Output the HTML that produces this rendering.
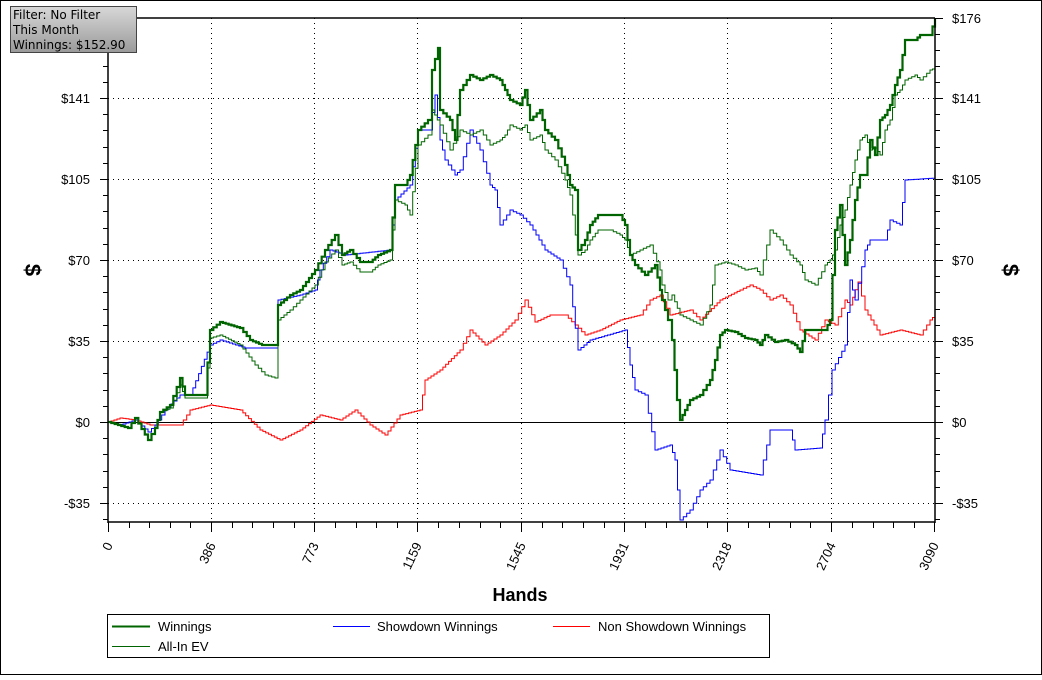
<!DOCTYPE html>
<html><head><style>
body{margin:0;background:#fff;}
svg text{font-family:"Liberation Sans",sans-serif;}
</style></head><body>
<svg width="1042" height="675" xmlns="http://www.w3.org/2000/svg">
<defs><linearGradient id="g" x1="0" y1="0" x2="0" y2="1"><stop offset="0" stop-color="#d8d8d8"/><stop offset="1" stop-color="#9a9a9a"/></linearGradient></defs>
<rect x="0.5" y="0.5" width="1041" height="674" fill="#fff" stroke="#000"/>
<g stroke="#000" stroke-dasharray="1,4" stroke-width="1">
<line x1="108" y1="98.5" x2="935" y2="98.5"/><line x1="108" y1="179.5" x2="935" y2="179.5"/><line x1="108" y1="260.5" x2="935" y2="260.5"/><line x1="108" y1="341.5" x2="935" y2="341.5"/><line x1="108" y1="503.5" x2="935" y2="503.5"/>
<line x1="211.5" y1="18" x2="211.5" y2="522"/><line x1="314.5" y1="18" x2="314.5" y2="522"/><line x1="417.5" y1="18" x2="417.5" y2="522"/><line x1="521.5" y1="18" x2="521.5" y2="522"/><line x1="624.5" y1="18" x2="624.5" y2="522"/><line x1="727.5" y1="18" x2="727.5" y2="522"/><line x1="831.5" y1="18" x2="831.5" y2="522"/>
</g>
<line x1="108" y1="422.5" x2="935" y2="422.5" stroke="#000"/>
<g fill="none" stroke-linejoin="miter" class="ser">
<polyline stroke="#ff0000" points="108,422 120,418 135,420 150,425 165,425 180,425 190,410 210,405 240,410 260,430 280,440 300,430 320,415 340,420 355,410 370,425 385,435 400,415 420,410 425,380 440,370 460,350 470,330 485,345 500,335 515,320 525,300 535,322 550,315 565,315 575,325 585,335 600,330 620,320 640,315 650,300 660,295 670,315 690,310 700,320 720,300 740,290 750,285 760,290 770,300 780,295 790,305 800,330 815,340 825,320 835,325 845,300 850,305 858,282 865,310 880,335 900,330 920,335 930,320 935,315"/>
<polyline stroke="#0000ff" points="108,422 120,425 135,420 148,432 155,425 165,410 180,395 190,395 210,345 220,340 245,348 275,348 278,300 300,295 315,290 320,270 330,250 345,255 390,250 395,200 410,185 418,130 430,130 435,95 440,140 445,160 455,175 460,170 470,130 480,150 490,185 495,190 500,225 510,210 520,215 530,225 545,250 560,260 570,285 578,350 590,340 625,330 630,365 635,390 645,395 655,450 670,445 675,460 680,520 690,510 700,490 710,480 720,450 730,470 760,475 770,430 790,430 795,450 820,448 825,420 832,370 845,345 850,280 855,300 865,250 870,240 885,240 890,220 900,225 905,180 935,178"/>
<polyline stroke="#006400" stroke-width="1" points="108,422 118,425 128,428 135,418 148,440 155,428 160,412 170,408 180,385 185,398 205,398 210,338 220,335 240,345 255,365 265,375 275,378 278,320 290,310 300,300 315,285 325,262 335,250 342,265 350,262 360,272 370,272 378,265 390,260 395,200 405,205 410,215 418,145 428,135 432,110 440,125 450,150 460,130 470,135 480,130 490,145 500,140 505,135 510,125 520,130 525,125 530,140 540,135 545,150 555,160 565,180 570,195 578,255 585,250 590,240 598,230 610,230 620,235 625,240 630,255 640,250 650,245 660,270 662,285 668,300 672,295 680,315 690,320 700,325 710,305 715,265 725,262 735,265 745,270 755,268 760,275 770,230 780,240 790,255 800,265 805,280 815,285 825,265 830,260 835,250 840,225 845,210 850,185 855,160 860,140 865,135 870,150 875,148 880,155 885,130 890,120 895,95 900,90 905,80 915,75 920,80 930,70 935,68"/>
<polyline stroke="#006400" stroke-width="2.2" points="108,422 118,425 128,428 135,418 148,440 155,428 160,412 170,405 180,378 185,395 205,395 210,330 220,322 240,328 250,340 262,345 275,345 278,305 290,295 300,290 315,270 325,250 335,235 342,255 350,250 360,262 370,262 378,255 390,250 395,185 405,185 410,175 418,130 428,120 432,70 438,48 440,110 450,120 455,140 460,90 470,75 480,80 490,75 500,80 505,90 510,100 520,105 525,90 530,120 540,110 545,130 555,140 565,165 570,185 575,190 578,250 585,240 590,225 598,215 610,215 620,215 625,225 630,255 635,265 645,275 655,265 660,290 662,300 668,320 672,340 677,400 680,420 685,410 690,400 700,395 710,380 715,360 720,335 725,330 735,332 745,338 755,340 760,345 765,335 775,342 785,340 795,345 800,352 805,330 815,330 825,330 830,320 835,230 840,205 845,265 850,240 855,200 860,175 865,175 870,140 875,155 880,120 885,115 890,105 895,85 900,70 905,40 915,40 920,35 930,35 935,18"/>
</g>
<g stroke="#000" stroke-width="1.5" fill="none">
<line x1="108" y1="18" x2="108" y2="523"/><line x1="935" y1="18" x2="935" y2="523"/><line x1="108" y1="18" x2="935" y2="18"/><line x1="108" y1="522" x2="935" y2="522"/>
</g>
<g stroke="#000" stroke-width="1">
<path d="M100,98.5h8M100,179.5h8M100,260.5h8M100,341.5h8M100,422.5h8M100,503.5h8M935,98.5h8M935,179.5h8M935,260.5h8M935,341.5h8M935,422.5h8M935,503.5h8M935,18.5h8"/>
<path d="M103,34.5h5M103,50.5h5M103,66.5h5M103,82.5h5M103,114.5h5M103,130.5h5M103,147.5h5M103,163.5h5M103,195.5h5M103,211.5h5M103,228.5h5M103,244.5h5M103,276.5h5M103,292.5h5M103,309.5h5M103,325.5h5M103,357.5h5M103,373.5h5M103,390.5h5M103,406.5h5M103,438.5h5M103,454.5h5M103,471.5h5M103,487.5h5M103,519.5h5"/>
<path d="M935,34.5h5M935,50.5h5M935,66.5h5M935,82.5h5M935,114.5h5M935,130.5h5M935,147.5h5M935,163.5h5M935,195.5h5M935,211.5h5M935,228.5h5M935,244.5h5M935,276.5h5M935,292.5h5M935,309.5h5M935,325.5h5M935,357.5h5M935,373.5h5M935,390.5h5M935,406.5h5M935,438.5h5M935,454.5h5M935,471.5h5M935,487.5h5M935,519.5h5"/>
<path d="M108.5,522v10M211.5,522v10M314.5,522v10M417.5,522v10M521.5,522v10M624.5,522v10M727.5,522v10M831.5,522v10M934.5,522v10"/>
<path d="M129.5,522v6M149.5,522v6M170.5,522v6M190.5,522v6M232.5,522v6M252.5,522v6M273.5,522v6M294.5,522v6M335.5,522v6M356.5,522v6M376.5,522v6M397.5,522v6M438.5,522v6M459.5,522v6M480.5,522v6M500.5,522v6M542.5,522v6M562.5,522v6M583.5,522v6M604.5,522v6M645.5,522v6M666.5,522v6M686.5,522v6M707.5,522v6M748.5,522v6M769.5,522v6M790.5,522v6M810.5,522v6M852.5,522v6M873.5,522v6M893.5,522v6M914.5,522v6"/>
</g>
<g font-size="13" fill="#000" text-anchor="end">
<text x="90" y="103">$141</text><text x="90" y="184">$105</text><text x="90" y="265">$70</text><text x="90" y="346">$35</text><text x="90" y="427">$0</text><text x="90" y="508">-$35</text>
</g>
<g font-size="13" fill="#000">
<text x="952" y="23">$176</text><text x="952" y="103">$141</text><text x="952" y="184">$105</text><text x="952" y="265">$70</text><text x="952" y="346">$35</text><text x="952" y="427">$0</text><text x="952" y="508">-$35</text>
</g>
<g font-size="13" fill="#000" text-anchor="end">
<text transform="translate(113,545) rotate(-65)">0</text>
<text transform="translate(216,545) rotate(-65)">386</text>
<text transform="translate(319,545) rotate(-65)">773</text>
<text transform="translate(422,545) rotate(-65)">1159</text>
<text transform="translate(526,545) rotate(-65)">1545</text>
<text transform="translate(629,545) rotate(-65)">1931</text>
<text transform="translate(732,545) rotate(-65)">2318</text>
<text transform="translate(836,545) rotate(-65)">2704</text>
<text transform="translate(939,545) rotate(-65)">3090</text>
</g>
<text x="520" y="601" font-size="18" font-weight="bold" text-anchor="middle">Hands</text>
<text transform="translate(25,270) rotate(90)" font-size="22" font-weight="bold" text-anchor="middle">$</text>
<text transform="translate(1003,270) rotate(90)" font-size="22" font-weight="bold" text-anchor="middle">$</text>
<rect x="107.5" y="614.5" width="662" height="43" fill="#fff" stroke="#000"/>
<line x1="112" y1="626.5" x2="150" y2="626.5" stroke="#006400" stroke-width="2"/>
<line x1="333" y1="626.5" x2="370" y2="626.5" stroke="#0000ff"/>
<line x1="553" y1="626.5" x2="590" y2="626.5" stroke="#ff0000"/>
<line x1="112" y1="646.5" x2="150" y2="646.5" stroke="#006400"/>
<g font-size="13" fill="#000">
<text x="158" y="631">Winnings</text><text x="377" y="631">Showdown Winnings</text><text x="598" y="631">Non Showdown Winnings</text><text x="158" y="651">All-In EV</text>
</g>
<rect x="10.5" y="6.5" width="126" height="46" fill="url(#g)" stroke="#444"/>
<g fill="#000">
<text x="13" y="19" style="font-family:'DejaVu Sans',sans-serif;font-size:12px">Filter: No Filter</text>
<text x="13" y="34" style="font-family:'DejaVu Sans',sans-serif;font-size:12px">This Month</text>
<text x="13" y="49" style="font-family:'DejaVu Sans',sans-serif;font-size:12px">Winnings: $152.90</text>
</g>
</svg>
<script>
document.querySelectorAll('.ser polyline').forEach(function(p){
  var pts=p.getAttribute('points').trim().split(/\s+/).map(function(s){return s.split(',').map(Number);});
  var out=[pts[0]];
  for(var i=1;i<pts.length;i++){
    var a=out[out.length-1],b=pts[i];
    var n=Math.max(1,Math.round((b[0]-a[0])/3));
    for(var k=1;k<=n;k++){
      var x=a[0]+(b[0]-a[0])*k/n, y=a[1]+(b[1]-a[1])*k/n;
      var py=out[out.length-1][1];
      out.push([x,py]);out.push([x,y]);
    }
  }
  p.setAttribute('points',out.map(function(q){return q[0].toFixed(1)+','+q[1].toFixed(1);}).join(' '));
});
</script>
</body></html>
